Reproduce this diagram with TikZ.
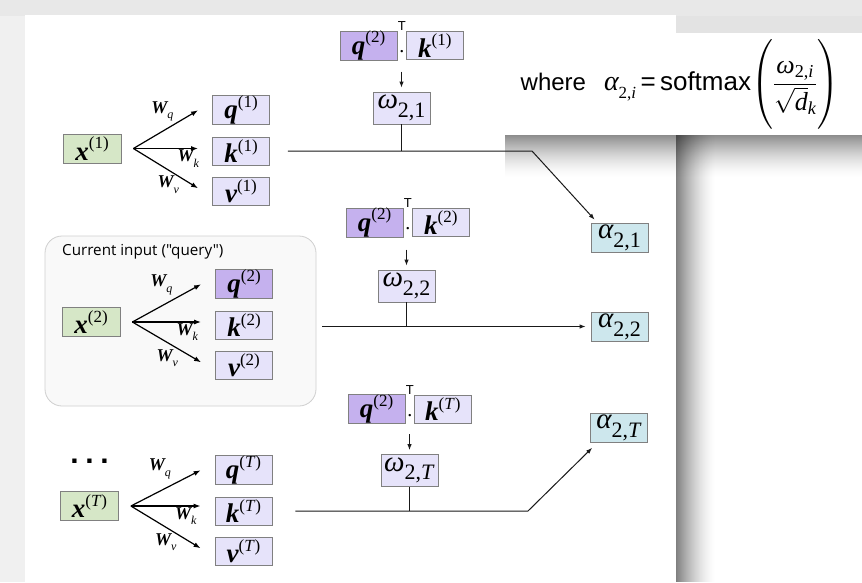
\documentclass[tikz,border=0pt]{standalone}
\usepackage{fontspec}
\usepackage{amsmath}
\setmainfont{Liberation Serif}
\newfontfamily\frmsans{Liberation Sans}
\newfontfamily\capsans{Open Sans}
\usetikzlibrary{arrows.meta,positioning,calc}
\definecolor{vlight}{HTML}{E6E3FA}
\definecolor{vdark}{HTML}{C5B1EE}
\definecolor{xgreen}{HTML}{D6E7C7}
\definecolor{acyan}{HTML}{CDE7ED}
\definecolor{boxgray}{HTML}{808080}
\definecolor{curfill}{HTML}{F9F9F9}
\definecolor{curline}{HTML}{CFCFCF}
% vector with superscript, scalar with subscript, weight matrix
\newcommand{\vsym}[2]{{\bfseries\itshape #1}\raisebox{0.42em}{\fontsize{17}{17}\selectfont(#2)}}
\newcommand{\gsym}[2]{{\itshape #1}\raisebox{-0.3em}{\fontsize{22}{22}\selectfont #2}}
\newcommand{\wsym}[1]{{\bfseries\itshape W}\raisebox{-0.3em}{\fontsize{12}{12}\selectfont\itshape #1}}
\newcommand{\ri}[1]{\text{\rmfamily\itshape #1}}

\begin{document}
\begin{tikzpicture}[x=1pt, y=-1pt,
    node distance=11.5pt,
    vbox/.style={draw=boxgray, fill=vlight, line width=0.8pt, minimum width=57pt,
                 minimum height=28pt, inner sep=0pt, font=\fontsize{27}{28}\selectfont},
    qbox/.style={vbox, fill=vdark},
    xbox/.style={vbox, fill=xgreen, minimum width=58pt, minimum height=29pt},
    wbox/.style={vbox, minimum height=32pt, font=\fontsize{29}{29}\selectfont},
    abox/.style={vbox, fill=acyan, minimum height=29pt, font=\fontsize{29}{29}\selectfont},
    wlab/.style={inner sep=0pt, font=\fontsize{18}{18}\selectfont},
    tsup/.style={inner sep=0pt, font=\frmsans\fontsize{13}{13}\selectfont},
    dotf/.style={inner sep=0pt, font=\fontsize{20}{20}\selectfont},
    line/.style={line width=1pt, black!90},
    arr/.style={line, -{Latex[length=6pt, width=4.5pt]}},
    fan/.style={line width=1.2pt, -{Latex[length=7pt, width=5pt]}}
  ]
  \useasboundingbox (0,0) rectangle (862,582);
  % page, panel and shadows
  \fill[white] (0,0) rectangle (862,582);
  \fill[black!9] (0,0) rectangle (862,16);
  \fill[black!6] (0,16) rectangle (25,582);
  \fill[black!11] (500,16) rectangle (862,33);
  \fill[white] (25,15) rectangle (676,582);
  \foreach \j in {0,...,42} {
    \pgfmathsetmacro\op{0.45*(1-\j/43)^1.6}
    \fill[black, opacity=\op] (505,135+\j) rectangle (862,136+\j);
  }
  \foreach \i in {0,...,39} {
    \pgfmathsetmacro\op{0.5*(1-\i/40)^1.6}
    \fill[black, opacity=\op] (676+\i,135) rectangle (677+\i,582);
  }

  \node[fill=white, minimum width=350pt, minimum height=102pt, inner sep=0pt] (frm) at (680,84)
    {\frmsans\fontsize{24}{28}\selectfont where\hspace{18pt}{\rmfamily\itshape\fontsize{28}{28}\selectfont
     α\raisebox{-0.3em}{\fontsize{17}{17}\selectfont\upshape 2,\itshape i}}{\fontsize{26}{28}\selectfont\,=\,softmax}%
     \fontsize{26}{30}\selectfont$\left(\vrule height 37pt depth 37pt width 0pt
     \dfrac{\ri{ω}_{\text{\rmfamily 2,\itshape i}}}{\sqrt{\ri{d}}_{\ri{k}}}\right)$};

  \node[draw=curline, fill=curfill, line width=0.8pt, rounded corners=17pt,
        minimum width=271pt, minimum height=170pt] (cur) at (180.5,321) {};
  \node[anchor=west, inner sep=0pt, font=\capsans\fontsize{15.2}{15}\selectfont] (curlab) at (62,252)
    {Current input ("query")};
  \node[inner sep=0pt, font=\frmsans\bfseries\fontsize{30}{30}\selectfont] (dots) at (89.5,461)
    {.\hspace{6.7pt}.\hspace{6.7pt}.};

  % inputs and their projections
  \node[xbox] (x1) at (92,148.5) {\vsym{x}{1}};
  \node[vbox] (k1) at (241,151) {\vsym{k}{1}};
  \node[vbox, above=of k1] (q1) {\vsym{q}{1}};
  \node[vbox, below=of k1] (v1) {\vsym{v}{1}};

  \node[xbox] (x2) at (91,322) {\vsym{x}{2}};
  \node[vbox] (k2) at (244,325) {\vsym{k}{2}};
  \node[qbox, above=of k2] (q2) {\vsym{q}{2}};
  \node[vbox, below=of k2] (v2) {\vsym{v}{2}};

  \node[xbox] (xT) at (89.5,506) {\vsym{x}{\textit{T}}};
  \node[vbox] (kT) at (243.5,511) {\vsym{k}{\textit{T}}};
  \node[vbox, above=of kT] (qT) {\vsym{q}{\textit{T}}};
  \node[vbox, below=of kT] (vT) {\vsym{v}{\textit{T}}};

  \foreach \r in {1,2,T} {
    \coordinate (o\r) at ([xshift=12pt]x\r.east);
    \draw[fan] (o\r) -- ([xshift=-14pt]q\r.west);
    \draw[fan, shorten >=14pt] (o\r) -- (o\r -| k\r.west);
    \draw[fan] (o\r) -- ([shift={(-14pt,3pt)}]v\r.west);
    \node[wlab] (wq\r) at ($(o\r)+(29,-37)$) {\wsym{q}};
    \node[wlab] (wk\r) at ($(o\r)+(55,10)$) {\wsym{k}};
    \node[wlab] (wv\r) at ($(o\r)+(35,36)$) {\wsym{v}};
  }

  % attention scores for each key
  \node[qbox] (qa1) at (368.5,45.5) {\vsym{q}{2}};
  \node[vbox, right=8.5pt of qa1] (kb1) {\vsym{k}{1}};
  \node[wbox] (w1) at (401.5,108) {\gsym{ω}{2,1}};
  \node[abox] (a1) at (619.5,237.5) {\gsym{α}{2,1}};

  \node[qbox] (qa2) at (374.5,222.5) {\vsym{q}{2}};
  \node[vbox, right=8.5pt of qa2] (kb2) {\vsym{k}{2}};
  \node[wbox] (w2) at (406.5,286) {\gsym{ω}{2,2}};
  \node[abox] (a2) at (619.5,326.5) {\gsym{α}{2,2}};

  \node[qbox] (qaT) at (376.5,409) {\vsym{q}{2}};
  \node[vbox, right=8.5pt of qaT] (kbT) {\vsym{k}{\textit{T}}};
  \node[wbox] (wT) at (409.5,470.5) {\gsym{ω}{2,\textit{T}}};
  \node[abox] (aT) at (619,428) {\gsym{α}{2,\textit{T}}};

  \foreach \r in {1,2,T} {
    \node[tsup] (t\r) at ([shift={(-4pt,5pt)}]kb\r.north west) {T};
    \node[dotf] (d\r) at ([shift={(-4pt,8pt)}]kb\r.south west) {.};
    \draw[arr] ([yshift=20pt]w\r.north) -- ([yshift=4pt]w\r.north);
  }

  \coordinate (b1) at (532,151);
  \coordinate (bT) at (528,511);
  \draw[line] (w1.south) -- (w1.south |- k1.east);
  \draw[arr] ([xshift=18pt]k1.east) -- (b1) -- ([shift={(4pt,3pt)}]a1.north west);
  \draw[line] (w2.south) -- (w2.south |- a2.west);
  \draw[arr, shorten >=5pt] ([xshift=6pt]cur.east |- a2.west) -- (a2.west);
  \draw[line] (wT.south) -- (wT.south |- kT.east);
  \draw[arr] ([xshift=23pt]kT.east) -- (bT) -- ([shift={(2pt,-5pt)}]aT.south west);
\end{tikzpicture}
\end{document}
